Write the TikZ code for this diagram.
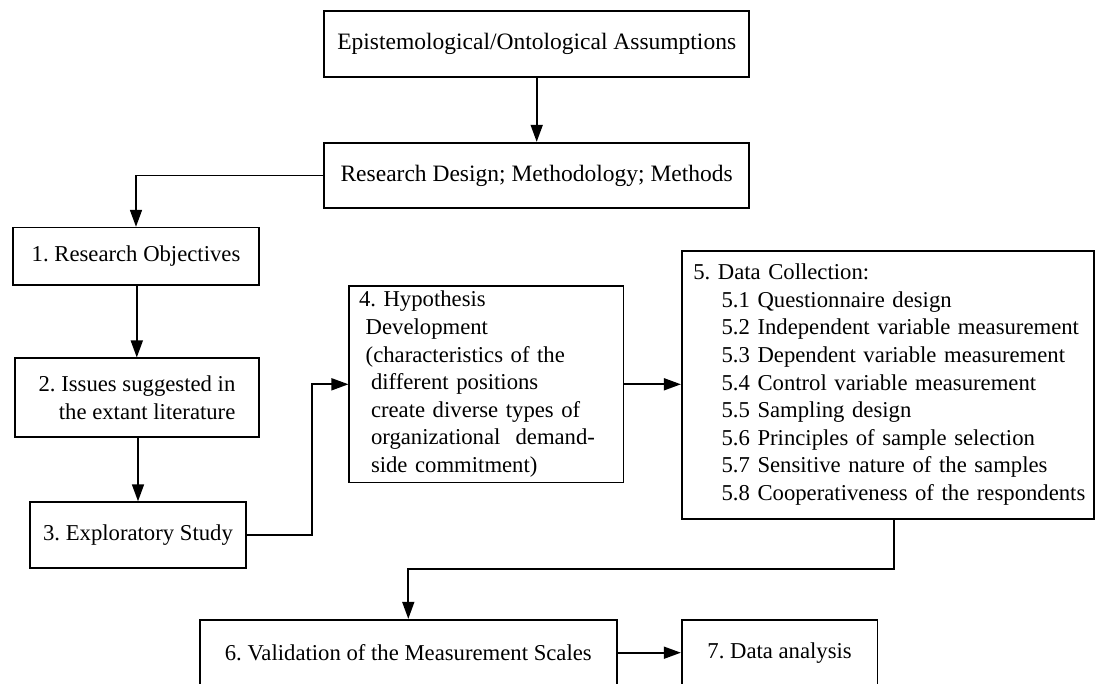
\documentclass[tikz,border=0pt]{standalone}
\usepackage{fontspec}
\setmainfont{Liberation Serif}
\usetikzlibrary{arrows.meta,calc}
\frenchspacing

\tikzset{
  box/.style={draw, line width=1.7pt, inner sep=0pt,
    font=\fontsize{22.7}{27.6}\selectfont},
  bigbox/.style={box, font=\fontsize{23.5}{28}\selectfont},
  arr/.style={line width=1.7pt, -{Triangle[length=17pt,width=12pt]}},
}

\begin{document}
\begin{tikzpicture}[x=1pt,y=-1pt]
\clip (0,0) rectangle (1096,684);
\fill[white] (0,0) rectangle (1096,684);

% top level
\node[bigbox, minimum width=425, minimum height=66.3] (epi) at (536.7,44.2)
  {Epistemological/Ontological Assumptions};
\node[bigbox, minimum width=425, minimum height=65.6] (rd) at (536.7,175.5)
  {Research Design; Methodology; Methods};

% left column
\node[box, minimum width=246, minimum height=57.3] (s1) at (136,256.3)
  {1. Research Objectives};
\node[box, minimum width=244, minimum height=78.4, align=right] (s2) at (137,397.5)
  {2. Issues suggested in\\the extant literature};
\node[box, minimum width=216, minimum height=65.7] (s3) at (138,535)
  {3. Exploratory Study};

% hypothesis box
\node[box, minimum width=274.2, minimum height=196.7, text width=262, align=left]
  (s4) at (486.4,384.3)
  {\hyphenpenalty=10000
   \hspace*{3.6pt}4. Hypothesis\\
   \hspace*{10.3pt}Development\\
   \hspace*{10.3pt}(characteristics of the\\
   \hspace*{15.6pt}different positions\\
   \hspace*{15.6pt}create diverse types of\\
   \hspace*{15.6pt}organizational\ \ demand-\\
   \hspace*{15.6pt}side commitment)};

% data collection box
\node[box, minimum width=412.3, minimum height=268, text width=410, align=left]
  (s5) at (887.9,384.7)
  {\hyphenpenalty=10000
   \hspace*{10.4pt}5. Data Collection:\\
   \hspace*{38.7pt}5.1 Questionnaire design\\
   \hspace*{38.7pt}5.2 Independent variable measurement\\
   \hspace*{38.7pt}5.3 Dependent variable measurement\\
   \hspace*{38.7pt}5.4 Control variable measurement\\
   \hspace*{38.7pt}5.5 Sampling design\\
   \hspace*{38.7pt}5.6 Principles of sample selection\\
   \hspace*{38.7pt}5.7 Sensitive nature of the samples\\
   \hspace*{38.7pt}5.8 Cooperativeness of the respondents};

% bottom row
\node[box, minimum width=416.7, minimum height=66] (s6) at (408.3,652.7)
  {6. Validation of the Measurement Scales};
\node[box, minimum width=195.8, minimum height=66] (s7) at (779.6,652.7)
  {7. Data analysis};

% connectors
\draw[arr] (epi.south) -- (rd.north);
\draw[arr] (rd.west) -| (s1.north);
\draw[arr] ([xshift=0.8pt]s1.south) -- ([xshift=0.8pt]s1.south |- s2.north);
\draw[arr] ([xshift=1pt]s2.south) -- (s3.north);
\draw[arr] (s3.east) -- ++(65,0) |- (s4.west);
\draw[arr] (s4.east) -- (s4.east -| s5.west);
\draw[arr] ([xshift=6pt]s5.south) -- ++(0,49.6) -| (s6.north);
\draw[arr] (s6.east) -- (s7.west);
\end{tikzpicture}
\end{document}
